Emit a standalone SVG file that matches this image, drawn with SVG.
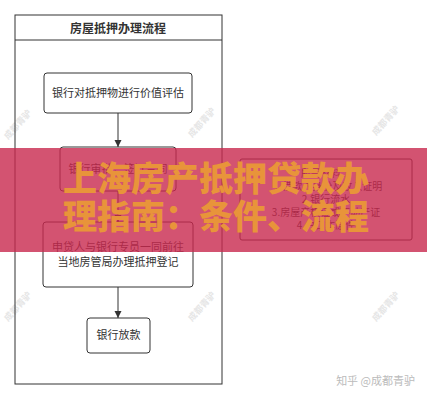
<svg xmlns="http://www.w3.org/2000/svg" width="427" height="400" viewBox="0 0 427 400">
<style>
.box{fill:#fff;stroke:#333;stroke-width:1}
.t{font-family:"Noto Sans CJK SC","Noto Sans",sans-serif;font-size:11px;fill:#333;text-anchor:middle}
.rt{font-family:"Noto Sans CJK SC","Noto Sans",sans-serif;font-size:10px;fill:#333;text-anchor:middle}
.wm{font-family:"Noto Sans CJK SC",sans-serif;font-size:9px;font-weight:bold;fill:#e6e6e6}
.ban{font-family:"Noto Sans CJK SC","Noto Sans",sans-serif;font-size:34px;font-weight:900;fill:#e8943a}
.edge{stroke:#333;stroke-width:1;fill:none}
</style>
<defs>
<marker id="ah" markerWidth="8" markerHeight="8" refX="7" refY="4" orient="auto" markerUnits="userSpaceOnUse">
<path d="M0,0.5 L7,4 L0,7.5 Z" fill="#333"/>
</marker>
</defs>
<rect width="427" height="400" fill="#fff"/>
<g id="watermarks">
<text class="wm" transform="translate(8,140) rotate(-48)">成都青驴</text>
<text class="wm" transform="translate(192,138) rotate(-48)">成都青驴</text>
<text class="wm" transform="translate(376,136) rotate(-48)">成都青驴</text>
<text class="wm" transform="translate(8,322) rotate(-48)">成都青驴</text>
<text class="wm" transform="translate(192,322) rotate(-48)">成都青驴</text>
<text class="wm" transform="translate(376,322) rotate(-48)">成都青驴</text>
</g>
<g id="lane">
<rect x="15" y="15" width="207" height="369" fill="none" stroke="#333"/>
<line x1="15" y1="40" x2="222" y2="40" stroke="#333"/>
<text x="118" y="33" class="t" style="font-weight:bold;font-size:12px">房屋抵押办理流程</text>
</g>
<g id="connectors">
<line class="edge" x1="118" y1="113" x2="118" y2="147" marker-end="url(#ah)"/>
<line class="edge" x1="118" y1="191" x2="118" y2="222" marker-end="url(#ah)"/>
<line class="edge" x1="118" y1="287" x2="118" y2="318" marker-end="url(#ah)"/>
</g>
<g id="n1">
<rect class="box" x="44" y="73" width="148" height="40" rx="3"/>
<text class="t" x="118" y="97">银行对抵押物进行价值评估</text>
</g>
<g id="n2">
<rect class="box" x="60" y="147" width="116" height="44" rx="3"/>
<text class="t" x="118" y="173">银行审批，签订合同</text>
</g>
<g id="n3">
<rect class="box" x="43" y="222" width="150" height="65" rx="3"/>
<text class="t" x="118" y="251">申贷人与银行专员一同前往</text>
<text class="t" x="118" y="266">当地房管局办理抵押登记</text>
</g>
<g id="n4">
<rect class="box" x="87" y="318" width="63" height="35" rx="3"/>
<text class="t" x="118.5" y="339">银行放款</text>
</g>
<g id="note">
<rect class="box" x="240" y="159" width="172" height="81" rx="2"/>
<text class="rt" x="326" y="177">所需材料：</text>
<text class="rt" x="328" y="190">1.借款人身份及收入证明</text>
<text class="rt" x="326" y="203">2.银行流水</text>
<text class="rt" x="326" y="216">3.房屋产权证或不动产证</text>
<text class="rt" x="326" y="229">4.户口本原件</text>
</g>
<g id="banner">
<rect x="0" y="148" width="427" height="104" fill="#c8284e" opacity="0.8"/>
<text class="ban" x="63" y="191">上海房产抵押贷款办</text>
<text class="ban" x="63" y="229">理指南：条件、流程</text>
</g>
<text x="415" y="385" style="font-family:'Noto Sans CJK SC',sans-serif;font-size:11px;fill:#bbb;text-anchor:end">知乎 @成都青驴</text>
</svg>
